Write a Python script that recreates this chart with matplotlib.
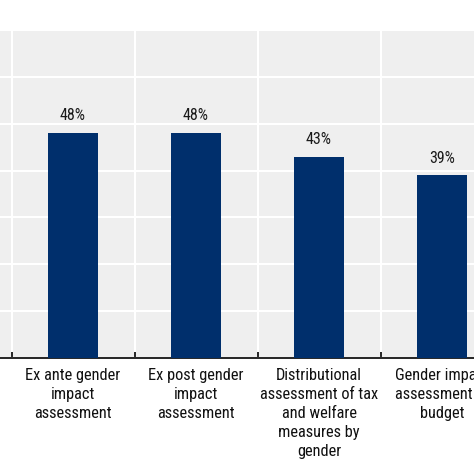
import matplotlib
matplotlib.use("Agg")
import matplotlib.pyplot as plt
import numpy as np
from matplotlib import font_manager
from matplotlib.font_manager import FontProperties

categories = ["Ex ante gender\nimpact\nassessment",
              "Ex post gender\nimpact\nassessment",
              "Distributional\nassessment of tax\nand welfare\nmeasures by\ngender",
              "Gender impact\nassessment of\nbudget"]
values = [48, 48, 43, 39]

# look for a narrow sans (reference uses an Arial Narrow look)
narrow = None
for pref in ["Liberation Sans Narrow", "Roboto Condensed", "Open Sans", "DejaVu Sans", "Noto Sans"]:
    for f in font_manager.fontManager.ttflist:
        cond = ('Narrow' in f.name or 'Condensed' in f.name or 'Narrow' in f.fname
                or 'Condensed' in f.fname or str(f.stretch) in ('condensed', 'semi-condensed'))
        if f.name.startswith(pref.split()[0]) and cond and f.style == 'normal' \
                and f.weight in (400, 'normal', 'regular') and 'Bold' not in f.fname:
            narrow = f.fname
            break
    if narrow:
        break

if narrow:
    lab_fp = FontProperties(fname=narrow, size=11.8)
    val_fp = FontProperties(fname=narrow, size=11.5)
else:
    lab_fp = FontProperties(family='Liberation Sans', size=10.3)
    val_fp = FontProperties(family='Liberation Sans', size=10)

fig = plt.figure(figsize=(4.74, 4.74), dpi=100)
# the reference is a crop of a wider chart, so the axes run to both figure edges
ax = fig.add_axes([0, 1 - 358/474, 1, (358 - 30)/474])
ax.set_facecolor('#efefef')

x = np.arange(len(values))
ax.bar(x, values, width=0.4, color='#002f6c', zorder=3)
for xi, v in zip(x, values):
    ax.annotate(f"{v}%", (xi, v), xytext=(0, 7), textcoords='offset points',
                ha='center', va='bottom', fontproperties=val_fp, color='#1a1a1a')

ax.set_yticks(np.arange(0, 71, 10))
ax.set_yticklabels([])
ax.tick_params(axis='y', length=0)

ax.set_xticks(x)
ax.set_xticklabels(categories, fontproperties=lab_fp, linespacing=1.33, color='#111111')
ax.set_xticks(np.arange(-0.5, 4, 1), minor=True)
ax.tick_params(axis='x', which='major', length=0, pad=7)
ax.tick_params(axis='x', which='minor', direction='in', length=4, width=1.2, color='black')

# limits after ticks (set_xticks may widen the view)
ax.set_xlim(-73/123, (474 - 73)/123)
ax.set_ylim(0, 70)

ax.grid(axis='y', color='white', linewidth=1.5, zorder=0)
ax.grid(axis='x', which='minor', color='white', linewidth=1.5, zorder=0)
ax.set_axisbelow(True)

for s in ['left', 'right', 'top']:
    ax.spines[s].set_visible(False)
ax.spines['bottom'].set_color('black')
ax.spines['bottom'].set_linewidth(1.2)

fig.savefig("out.png", dpi=100)
